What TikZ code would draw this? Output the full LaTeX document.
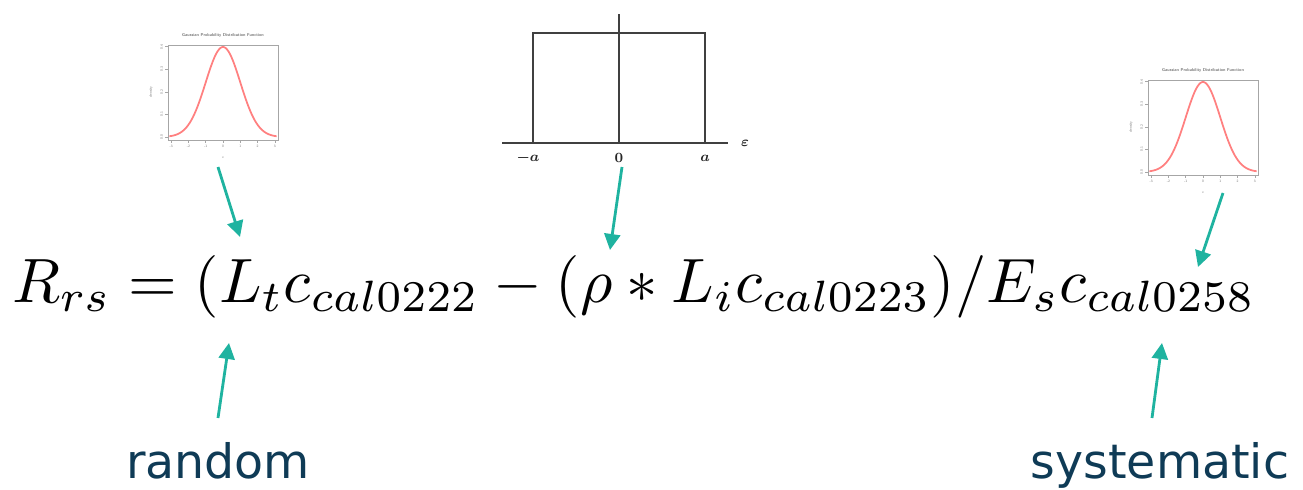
\documentclass[tikz,border=0pt]{standalone}
\usepackage{amsmath}
\usepackage{graphicx}
\usepackage{fontspec}
\usepackage{xcolor}
\newfontfamily\labelfont{DejaVu Sans}
\usetikzlibrary{arrows.meta, positioning, calc}
\definecolor{pointerteal}{HTML}{1FB3A0}
\definecolor{tagblue}{HTML}{0F3B56}
\tikzset{
  pdfframe/.style = {draw=black!35, line width=0.3pt},
  pdfcurve/.style = {draw=red!50, line width=1pt},
  pdftick/.style  = {font=\fontsize{2}{2.5}\selectfont\sffamily, text=black!55,
                     inner sep=0pt},
  unibox/.style   = {draw=black!75, line width=1.1pt},
  unilabel/.style = {font=\fontsize{8}{9}\selectfont\boldmath, text=black!85,
                     inner sep=0pt},
  pointer/.style  = {-{Triangle[length=3.2mm, width=3.2mm]}, draw=pointerteal,
                     line width=1.6pt},
  tag/.style      = {font=\labelfont\fontsize{27}{32}\selectfont, text=tagblue,
                     inner sep=0pt},
}

\begin{document}
\begin{tikzpicture}[x=0.02cm, y=-0.02cm]
  \useasboundingbox (0,0) rectangle (1303,490);

  \node[anchor=base west, inner sep=0pt] (eq) at (12,302)
    {\resizebox{24.86cm}{!}{$R_{rs} = (L_t c_{cal0222}
      - (\rho \ast L_i c_{cal0223})/E_s c_{cal0258}$}};

  \foreach \cx/\by/\g in {223/137/l, 1203/172/r} {
    \node[pdftick, font=\fontsize{2.4}{3}\selectfont\sffamily\bfseries] (title\g)
      at (\cx,\by-102) {Gaussian Probability Distribution Function};
    \draw[pdfframe] (\cx-55,\by-92) rectangle (\cx+55,\by+3);
    \foreach \t in {-3,...,3}
      \draw[pdfframe] (\cx+17.3*\t,\by+3) -- (\cx+17.3*\t,\by+6)
        node[pdftick, below=1pt] (xt\g\t) {\t};
    \foreach \v [count=\j] in {0.0,0.1,0.2,0.3,0.4}
      \draw[pdfframe] (\cx-55,\by-\v*225.6) -- (\cx-58,\by-\v*225.6)
        node[pdftick, left=1pt, rotate=90, anchor=south] (yt\g\j) {\v};
    \node[pdftick, rotate=90] (dens\g) at (\cx-72,\by-45) {density};
    \node[pdftick] (xl\g) at (\cx,\by+21) {x};
    \draw[pdfcurve] plot[domain=-3.1:3.1, samples=70]
      ({\cx+17.3*\x}, {\by-90*exp(-0.5*(\x)^2)});
  }

  \draw[unibox] (502,143) -- (728,143);
  \draw[unibox] (533,143) -- (533,33) -- (705,33) -- (705,143);
  \draw[unibox] (619,143) -- (619,14);
  \node[unilabel] (uma) at (528,158) {$-a$};
  \node[unilabel] (uzero) at (619,158) {$0$};
  \node[unilabel] (ua) at (705,158) {$a$};
  \node[unilabel] (ueps) at (745,143) {$\varepsilon$};

  \node[tag, anchor=base] (rnd) at (218,478) {random};
  \node[tag, anchor=base] (sys) at (1160,478) {systematic};

  \coordinate (p1s) at (218,167);  \coordinate (p1e) at (240,237);
  \coordinate (p2s) at (622,167);  \coordinate (p2e) at (610,250);
  \coordinate (p3s) at (1223,193); \coordinate (p3e) at (1198,267);
  \coordinate (p4s) at (218,418);  \coordinate (p4e) at (229,343);
  \coordinate (p5s) at (1152,418); \coordinate (p5e) at (1162,343);

  \draw[pointer] (p1s) -- (p1e);
  \draw[pointer] (p2s) -- (p2e);
  \draw[pointer] (p3s) -- (p3e);
  \draw[pointer] (p4s) -- (p4e);
  \draw[pointer] (p5s) -- (p5e);
\end{tikzpicture}
\end{document}
